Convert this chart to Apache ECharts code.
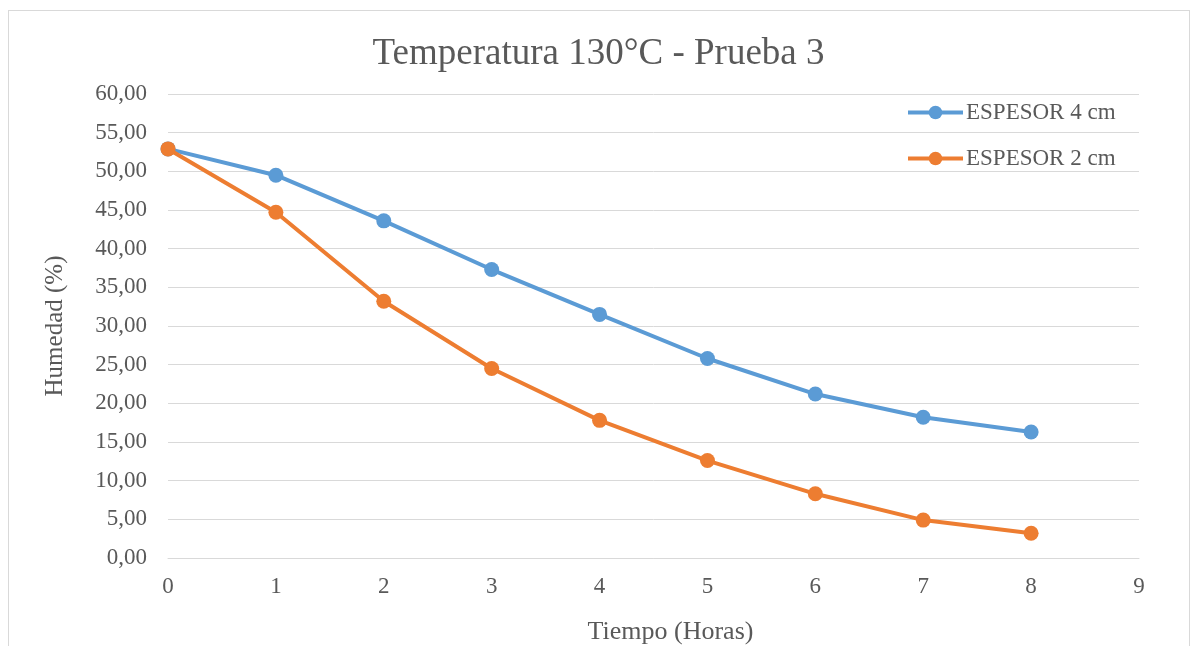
<!DOCTYPE html>
<html>
<head>
<meta charset="utf-8">
<script src="https://cdn.jsdelivr.net/npm/echarts@6/dist/echarts.min.js"></script>
<style>
html,body{margin:0;padding:0;background:#fff;}
#frame{position:absolute;left:8px;top:10px;width:1182px;height:650px;border:1px solid #d9d9d9;box-sizing:border-box;}
#chart{position:absolute;left:0;top:0;width:1197px;height:646px;}
</style>
</head>
<body>
<div id="frame"></div>
<div id="chart"></div>
<script>
const hours = [0, 1, 2, 3, 4, 5, 6, 7, 8];
const espesor4 = [52.9, 49.5, 43.6, 37.3, 31.5, 25.8, 21.2, 18.2, 16.3];
const espesor2 = [52.9, 44.7, 33.2, 24.5, 17.8, 12.6, 8.3, 4.9, 3.2];
const seriesNames = ['ESPESOR 4 cm', 'ESPESOR 2 cm'];

const font = '"Liberation Serif", "Times New Roman", serif';
const txt = '#595959';
const chart = echarts.init(document.getElementById('chart'), null, {renderer: 'canvas'});
const mk = (vals) => hours.map((h, i) => [h, vals[i]]);
chart.setOption({
  animation: false,
  backgroundColor: 'transparent',
  title: {
    text: 'Temperatura 130°C - Prueba 3',
    left: 'center', top: 31,
    textStyle: {fontFamily: font, fontSize: 37, fontWeight: 'normal', color: txt}
  },
  legend: {
    orient: 'vertical',
    left: 906, top: 101, padding: 0,
    itemWidth: 55, itemHeight: 17, itemGap: 23,
    lineStyle: {width: 4},
    textStyle: {fontFamily: font, fontSize: 23, color: txt, padding: [0, 0, 0, -2]},
    data: seriesNames
  },
  grid: {left: 168, right: 58, top: 94, bottom: 88, outerBoundsMode: 'none', containLabel: false},
  xAxis: {
    type: 'value', min: 0, max: 9, interval: 1,
    name: 'Tiempo (Horas)', nameLocation: 'middle', nameGap: 61,
    nameTextStyle: {fontFamily: font, fontSize: 26, color: txt, padding: [0, 0, 0, 34]},
    axisLine: {show: true, lineStyle: {color: '#d9d9d9'}},
    axisTick: {show: false},
    splitLine: {show: false},
    axisLabel: {fontFamily: font, fontSize: 23, color: txt, margin: 17}
  },
  yAxis: {
    type: 'value', min: 0, max: 60, interval: 5,
    name: 'Humedad (%)', nameLocation: 'middle', nameGap: 100, nameRotate: 90,
    nameTextStyle: {fontFamily: font, fontSize: 25, color: txt},
    axisLine: {show: false},
    axisTick: {show: false},
    splitLine: {lineStyle: {color: '#d9d9d9', width: 1}},
    axisLabel: {fontFamily: font, fontSize: 23, color: txt, margin: 21,
      formatter: (v) => v.toFixed(2).replace('.', ',')}
  },
  series: [
    {name: seriesNames[0], type: 'line', data: mk(espesor4), symbol: 'circle', symbolSize: 15,
     lineStyle: {color: '#5B9BD5', width: 4}, itemStyle: {color: '#5B9BD5'}, z: 2},
    {name: seriesNames[1], type: 'line', data: mk(espesor2), symbol: 'circle', symbolSize: 15,
     lineStyle: {color: '#ED7D31', width: 4}, itemStyle: {color: '#ED7D31'}, z: 3}
  ]
});
</script>
</body>
</html>
